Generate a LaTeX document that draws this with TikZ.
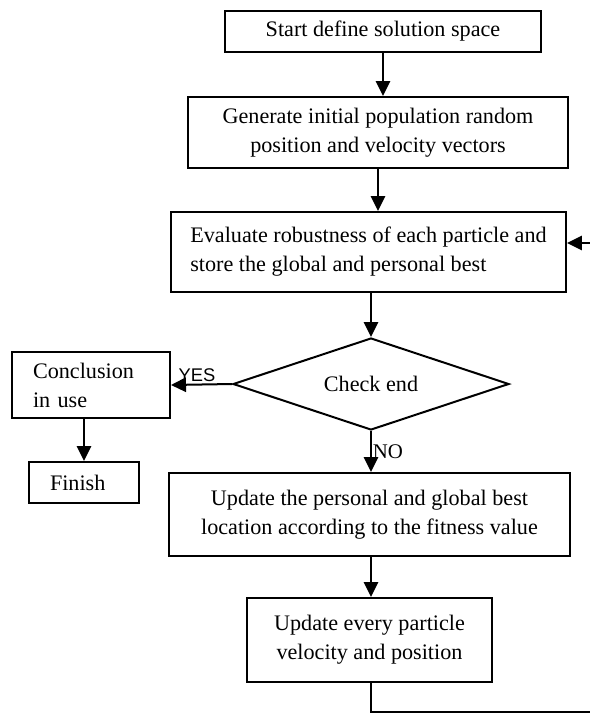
\documentclass[tikz,border=0pt]{standalone}
\usepackage{fontspec}
\setmainfont{Liberation Serif}
\newfontfamily\labelsans{Liberation Sans}
\usetikzlibrary{arrows.meta,shapes.geometric}

\begin{document}
\begin{tikzpicture}[x=0.6pt,y=-0.6pt,line width=1.2pt,
  box/.style={draw,rectangle,inner sep=0pt,align=center,
    font=\fontsize{13.3}{17.4}\selectfont},
  lbox/.style={box,align=left,inner xsep=12.6pt,text width=#1},
  arr/.style={-{Triangle[length=9pt,width=8.6pt]}}]
 \useasboundingbox (0,0) rectangle (590,713);

 \node [box,minimum width=189.6pt,minimum height=24.6pt] (start) at (383,31)
  {Start define solution space};
 \node [box,minimum width=228pt,minimum height=42.6pt] (gen) at (378,132.5)
  {Generate initial population random\\position and velocity vectors};
 \node [box,align=left,minimum width=237pt,minimum height=48pt] (eval) at (368.5,252)
  {Evaluate robustness of each particle and\\store the global and personal best};
 \node [draw,diamond,shape aspect=3,inner sep=0pt,minimum width=165.6pt,
  minimum height=55.2pt,font=\fontsize{13.3}{15}\selectfont] (dia) at (371,384)
  {Check end};
 \node [lbox=69.6pt,minimum width=94.8pt,minimum height=39.6pt] (concl) at (91,385)
  {Conclusion\\in use};
 \node [lbox=40.8pt,minimum width=66pt,minimum height=24.6pt] (finish) at (84,482.5)
  {Finish};
 \node [box,minimum width=240.6pt,minimum height=49.8pt] (upd1) at (369.5,514.5)
  {Update the personal and global best\\location according to the fitness value};
 \node [box,minimum width=147pt,minimum height=50.4pt] (upd2) at (369.5,640)
  {Update every particle\\velocity and position};

 % arrows down the main column
 \draw [arr] (start.south) -- (gen.north -| start.south);
 \draw [arr] (gen.south) -- (gen.south |- eval.north);
 \draw [arr] (eval.south -| dia.north) -- (dia.north);
 \draw [arr] (dia.south) -- (upd1.north -| dia.south);
 \draw [arr] (upd1.south -| dia.south) -- (upd2.north -| dia.south);

 % yes branch
 \draw [arr] (dia.west) -- (concl.east);
 \node [font=\labelsans\fontsize{11}{13}\selectfont] (yes) at (197,375) {YES};
 \draw [arr] (concl.south -| finish.north) -- (finish.north);
 \node [font=\fontsize{12.5}{14}\selectfont] (no) at (388,452) {NO};

 % loop back
 \coordinate (loopend) at (590,712);
 \coordinate (loopin) at (590,243);
 \draw (upd2.south -| dia.south) |- (loopend);
 \draw [arr] (loopin) -- (loopin -| eval.east);
\end{tikzpicture}
\end{document}
